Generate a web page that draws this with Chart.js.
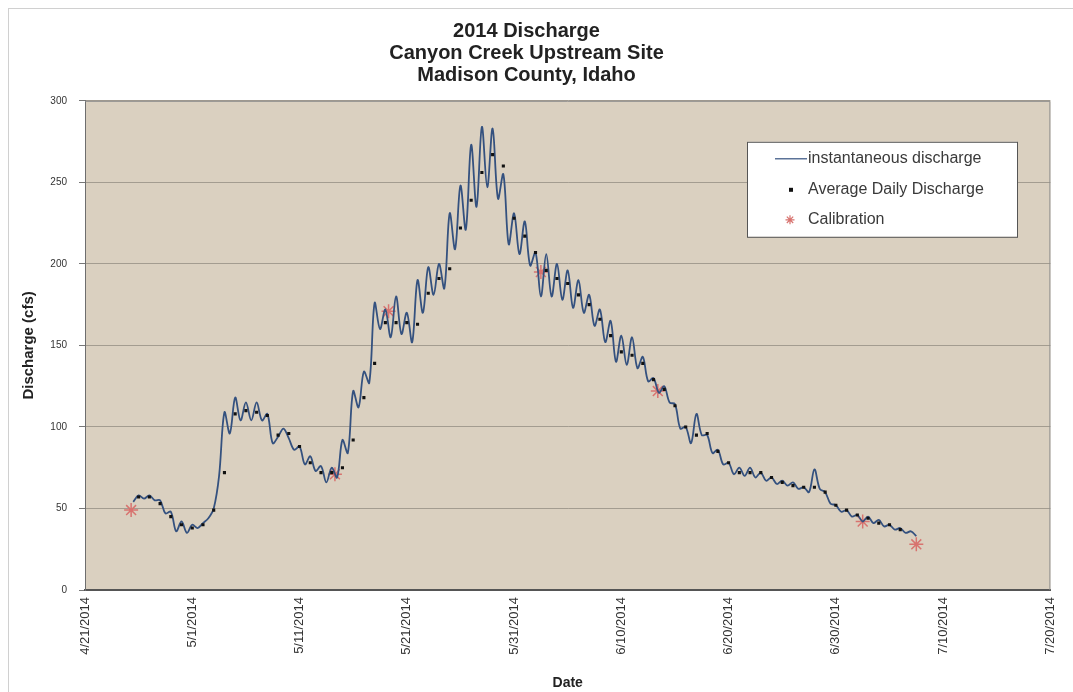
<!DOCTYPE html>
<html>
<head>
<meta charset="utf-8">
<script src="https://cdn.jsdelivr.net/npm/chart.js@4.4.1/dist/chart.umd.min.js"></script>
<style>
  html, body { margin: 0; padding: 0; background: #fff; }
  #wrap { position: relative; width: 1073px; height: 692px; }
</style>
</head>
<body>
<div id="wrap"><canvas id="dischargeChart"></canvas></div>
<script>
// days counted from 4/21/2014
const startDate = [2014, 3, 21];

// instantaneous discharge, sampled every half day from day 4.5
const instStart = 4.5;
const instStep = 0.5;
const instFlow = [
    54, 58, 56, 58, 55, 55, 47, 48, 36, 42,
    35, 40, 38, 41, 44, 50, 70, 109, 96, 118,
    104, 115, 104, 115, 104, 108, 90, 94, 99, 93,
    86, 88, 77, 82, 73, 76, 66, 75, 69, 92,
    84, 122, 112, 134, 127, 176, 160, 172, 155, 180,
    157, 170, 152, 190, 170, 198, 181, 200, 185, 231,
    209, 248, 221, 273, 235, 284, 247, 283, 240, 255,
    212, 231, 206, 226, 199, 207, 180, 206, 180, 200,
    178, 196, 173, 190, 170, 181, 162, 172, 152, 165,
    140, 156, 138, 155, 136, 143, 128, 130, 121, 125,
    115, 114, 99, 100, 90, 108, 95, 95, 84, 86,
    77, 78, 71, 75, 70, 75, 69, 72, 67, 69,
    65, 67, 64, 66, 62, 63, 60, 74, 62, 60,
    53, 52, 48, 49, 45, 46, 42, 45, 41, 43,
    39, 40, 37, 38, 35, 36, 33
];

// average daily discharge, days 5..76
const avgFirstDay = 5;
const avgFlow = [
    57, 57, 53, 45, 40, 38, 40, 49, 72, 108,
    110, 109, 107, 95, 96, 88, 78, 72, 72, 75,
    92, 118, 139, 164, 164, 164, 163, 182, 191, 197,
    222, 239, 256, 267, 260, 228, 217, 207, 196, 191,
    188, 181, 175, 166, 156, 146, 144, 139, 129, 123,
    113, 100, 95, 96, 85, 78, 72, 72, 72, 69,
    66, 64, 63, 63, 60, 52, 49, 46, 44, 41,
    40, 37
];

// calibration measurements
const calDays = [4.3, 23.3, 28.3, 42.5, 53.4, 72.5, 77.5];
const calFlow = [49, 71, 171, 195, 122, 42, 28];

const titleLines = ['2014 Discharge', 'Canyon Creek Upstream Site', 'Madison County, Idaho'];

const instData = instFlow.map((v, i) => ({ x: instStart + i * instStep, y: v }));
const avgData = avgFlow.map((v, i) => ({ x: avgFirstDay + i, y: v }));
const calData = calFlow.map((v, i) => ({ x: calDays[i], y: v }));

function dayLabel(v) {
    const d = new Date(startDate[0], startDate[1], startDate[2] + v);
    return (d.getMonth() + 1) + '/' + d.getDate() + '/' + d.getFullYear();
}

const FONT = "'Liberation Sans', Arial, sans-serif";

const plotFrame = {
    id: 'plotFrame',
    beforeDraw(chart) {
        const { ctx, chartArea: a } = chart;
        ctx.save();
        ctx.strokeStyle = '#d0d0d0';
        ctx.lineWidth = 1;
        ctx.strokeRect(8.5, 8.5, 1100, 700);
        ctx.fillStyle = '#dad0c0';
        ctx.fillRect(a.left, a.top, a.right - a.left, a.bottom - a.top);
        ctx.restore();
    },
    afterDraw(chart) {
        const { ctx, chartArea: a } = chart;
        ctx.save();
        ctx.strokeStyle = '#8c8c8c';
        ctx.lineWidth = 1;
        ctx.beginPath();
        ctx.moveTo(a.left, a.top + 0.5);
        ctx.lineTo(a.right - 0.5, a.top + 0.5);
        ctx.lineTo(a.right - 0.5, a.bottom);
        ctx.stroke();

        // legend box
        const bx = a.left + 662, by = a.top + 41, bw = 270, bh = 95;
        ctx.fillStyle = '#ffffff';
        ctx.fillRect(bx, by, bw, bh);
        ctx.strokeStyle = '#555';
        ctx.strokeRect(bx + 0.5, by + 0.5, bw, bh);

        const ds = chart.data.datasets;
        ctx.font = '16px ' + FONT;
        ctx.textBaseline = 'middle';
        const rows = [by + 17, by + 48, by + 78];
        // line sample
        ctx.strokeStyle = ds[0].borderColor;
        ctx.lineWidth = 1.2;
        ctx.beginPath();
        ctx.moveTo(bx + 28, rows[0]);
        ctx.lineTo(bx + 60, rows[0]);
        ctx.stroke();
        ctx.fillStyle = '#3a3a3a';
        ctx.fillText(ds[0].label, bx + 61, rows[0]);
        // square marker
        ctx.fillStyle = ds[1].backgroundColor;
        ctx.fillRect(bx + 42, rows[1] - 2, 4, 4);
        ctx.fillStyle = '#3a3a3a';
        ctx.fillText(ds[1].label, bx + 61, rows[1]);
        // star marker
        ctx.strokeStyle = ds[2].borderColor;
        ctx.lineWidth = 1.2;
        Chart.helpers.drawPoint(ctx, {
            pointStyle: 'star', radius: 4.5, borderWidth: 1.2, rotation: 0
        }, bx + 43, rows[2]);
        ctx.fillStyle = '#3a3a3a';
        ctx.fillText(ds[2].label, bx + 61, rows[2]);
        ctx.restore();
    }
};

const ctx = document.getElementById('dischargeChart').getContext('2d');

new Chart(ctx, {
    type: 'line',
    data: {
        datasets: [{
            label: 'instantaneous discharge',
            data: instData,
            borderColor: '#34517f',
            borderWidth: 1.8,
            pointRadius: 0,
            tension: 0.35,
            fill: false,
            order: 2
        }, {
            label: 'Average Daily Discharge',
            type: 'scatter',
            data: avgData,
            pointStyle: 'rect',
            pointRadius: 2.2,
            backgroundColor: '#111111',
            borderColor: '#111111',
            borderWidth: 0,
            order: 1
        }, {
            label: 'Calibration',
            type: 'scatter',
            data: calData,
            pointStyle: 'star',
            pointRadius: 7,
            borderColor: '#d8736f',
            backgroundColor: '#d8736f',
            borderWidth: 1.5,
            order: 3
        }]
    },
    options: {
        responsive: true,
        maintainAspectRatio: false,
        animation: false,
        layout: { padding: { left: 0, right: 20, top: 0, bottom: 0 } },
        plugins: {
            legend: { display: false },
            tooltip: { enabled: false },
            title: {
                display: true,
                text: titleLines,
                color: '#222',
                font: { family: FONT, size: 20, weight: 'bold', lineHeight: 1.08 },
                padding: { top: 21, bottom: 15 }
            }
        },
        scales: {
            x: {
                type: 'linear',
                min: 0,
                max: 90,
                afterFit: (scale) => { scale.height = 102; },
                grid: { display: false, drawTicks: false },
                border: { display: true, color: '#555', width: 2 },
                ticks: {
                    stepSize: 10,
                    autoSkip: false,
                    maxRotation: 90,
                    minRotation: 90,
                    padding: 7,
                    color: '#333',
                    font: { family: FONT, size: 13 },
                    callback: (v) => dayLabel(v)
                },
                title: {
                    display: true,
                    text: 'Date',
                    color: '#222',
                    font: { family: FONT, size: 14, weight: 'bold' },
                    padding: { top: 0, bottom: 0 }
                }
            },
            y: {
                min: 0,
                max: 300,
                afterFit: (scale) => { scale.width = 85; },
                grid: { color: '#a39c90', lineWidth: 1, drawTicks: true, tickLength: 6, tickColor: '#777' },
                border: { display: true, color: '#6e6e6e', width: 1 },
                ticks: {
                    stepSize: 50,
                    padding: 12,
                    color: '#333',
                    font: { family: FONT, size: 10 }
                },
                title: {
                    display: true,
                    text: 'Discharge (cfs)',
                    color: '#222',
                    font: { family: FONT, size: 15, weight: 'bold' },
                    padding: { top: 20, bottom: 0 }
                }
            }
        }
    },
    plugins: [plotFrame]
});
</script>
</body>
</html>
